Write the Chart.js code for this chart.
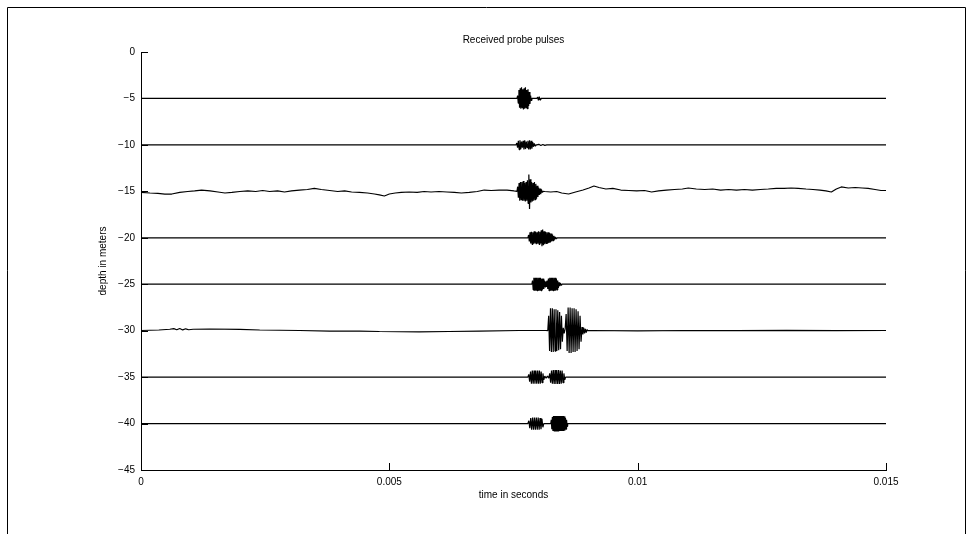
<!DOCTYPE html>
<html>
<head>
<meta charset="utf-8">
<title>Received probe pulses</title>
<script src="https://cdn.jsdelivr.net/npm/chart.js@4.4.0/dist/chart.umd.min.js"></script>
<style>
  body { margin: 0; background: #fff; }
  #wrap { width: 975px; height: 534px; }
</style>
</head>
<body>
<div id="wrap"><canvas id="chart-probe-pulses" width="975" height="534"></canvas></div>
<script>
// probe depths (m), one trace per depth
const depths = [-5, -10, -15, -20, -25, -30, -35, -40];

const xTicks = [0, 0.005, 0.01, 0.015];
const yTicks = [0, -5, -10, -15, -20, -25, -30, -35, -40, -45];

// slow baseline wander, [time s, depth m]
const drift15 = [
  [0, -15.12], [0.00018, -15.18], [0.00034, -15.23], [0.00048, -15.29], [0.00062, -15.29],
  [0.00078, -15.12], [0.00094, -15.02], [0.00108, -14.96], [0.00122, -14.86], [0.00139, -14.96],
  [0.00155, -15.07], [0.00169, -15.18], [0.00183, -15.12], [0.00199, -15.02], [0.00215, -14.96],
  [0.00231, -15.02], [0.00245, -14.91], [0.00259, -15.02], [0.00275, -14.96], [0.00289, -15.07],
  [0.00303, -14.96], [0.00319, -14.86], [0.00335, -14.80], [0.00349, -14.69], [0.00363, -14.80],
  [0.0038, -14.91], [0.00396, -15.02], [0.0041, -14.96], [0.00424, -15.07], [0.0044, -15.12],
  [0.00456, -15.18], [0.0047, -15.29], [0.0048, -15.39], [0.0049, -15.5], [0.005, -15.29],
  [0.00512, -15.18], [0.00524, -15.12], [0.0054, -15.07], [0.00556, -15.12], [0.0057, -15.02],
  [0.00584, -15.07], [0.006, -15.02], [0.00616, -15.07], [0.00631, -15.12], [0.00645, -15.18],
  [0.00661, -15.12], [0.00677, -15.02], [0.00691, -14.86], [0.00705, -14.91], [0.00721, -14.86],
  [0.00737, -14.86], [0.00751, -14.96],
  [0.00813, -15.02], [0.00825, -15.07], [0.00837, -15.02], [0.00847, -15.18], [0.00861, -15.29],
  [0.00875, -15.07], [0.0089, -14.86], [0.00902, -14.64], [0.00912, -14.43], [0.00922, -14.59],
  [0.00936, -14.75], [0.0095, -14.69], [0.00966, -14.86], [0.00982, -14.91], [0.00998, -14.96],
  [0.01014, -14.91], [0.01028, -15.07], [0.01042, -14.96], [0.01058, -14.86], [0.01074, -14.80],
  [0.0109, -14.75], [0.01102, -14.64], [0.01118, -14.75], [0.01135, -14.80], [0.01151, -14.75],
  [0.01167, -14.86], [0.01183, -14.80], [0.01199, -14.86], [0.01215, -14.80], [0.01231, -14.86],
  [0.01247, -14.80], [0.01263, -14.75], [0.01279, -14.69], [0.01295, -14.69], [0.01309, -14.64],
  [0.01323, -14.69], [0.01339, -14.75], [0.01353, -14.80], [0.01367, -14.86], [0.01379, -14.96],
  [0.0139, -15.07], [0.014, -14.75], [0.0141, -14.53], [0.01424, -14.64], [0.01438, -14.59],
  [0.01452, -14.64], [0.01464, -14.69], [0.01478, -14.80], [0.0149, -14.91], [0.015, -14.91]
];

const drift30 = [
  [0, -29.98], [0.00036, -29.93], [0.00058, -29.85], [0.00066, -29.78], [0.00072, -29.9],
  [0.00078, -29.76], [0.00084, -29.92], [0.0009, -29.8], [0.00096, -29.9], [0.00105, -29.85],
  [0.00138, -29.82], [0.00199, -29.87], [0.00239, -29.93], [0.00319, -29.98], [0.0038, -30.04],
  [0.0044, -30.04], [0.0048, -30.09], [0.0056, -30.14], [0.0062, -30.09], [0.00681, -30.04],
  [0.00761, -29.98], [0.00815, -29.98],
  [0.00905, -29.98], [0.01, -30.02], [0.011, -29.98], [0.012, -30.0], [0.013, -29.96],
  [0.014, -30.0], [0.015, -29.98]
];

// received bursts: evenly sampled swing (m) about the base depth
const pulses5 = [
  { from: 0.00757, to: 0.00787, base: -5,
    amp: [0, 0.3, -0.5, 0.9, -1.0, 1.1, -1.1, 1.2, -1.0, 1.0, -1.2, 1.1, -1.1, 1.2, -1.0, 0.9, -1.1, 1.0, -0.8, 0.7, -0.6, 0.3, -0.2, 0] },
  { from: 0.00797, to: 0.00805, base: -5,
    amp: [0, 0.15, -0.2, 0.2, -0.15, 0] }
];

const pulses10 = [
  { from: 0.00755, to: 0.00795, base: -10,
    amp: [0, 0.2, -0.3, 0.45, -0.5, 0.5, -0.45, 0.35, -0.3, 0.45, -0.5, 0.5, -0.45, 0.35, -0.3, 0.45, -0.5, 0.5, -0.5, 0.45, -0.4, 0.3, -0.2, 0.15, -0.1, 0] },
  { from: 0.00797, to: 0.00817, base: -10,
    amp: [0, 0.06, -0.06, 0.05, -0.05, 0] }
];

const pulses15 = [
  { from: 0.00757, to: 0.00809, base: -15,
    amp: [0, 0.5, -0.7, 0.9, -1.0, 1.0, -0.9, 1.0, -1.0, 1.1, -1.0, 0.9, -1.1, 1.0, -1.0, 1.2, -1.3, 1.8, -1.9, 1.3, -1.2, 1.0, -1.1, 0.9, -1.0, 1.0, -0.9, 0.8, -0.8, 0.6, -0.6, 0.4, -0.4, 0.3, -0.3, 0.2, -0.1, 0] }
];

const pulses20 = [
  { from: 0.00779, to: 0.00837, base: -20,
    amp: [0, 0.3, -0.4, 0.6, -0.6, 0.65, -0.7, 0.6, -0.65, 0.7, -0.6, 0.65, -0.7, 0.6, -0.65, 0.7, -0.7, 0.65, -0.6, 0.8, -0.9, 0.9, -0.8, 0.7, -0.7, 0.65, -0.6, 0.6, -0.65, 0.6, -0.55, 0.5, -0.5, 0.45, -0.4, 0.35, -0.3, 0.2, -0.2, 0.1, -0.1, 0] }
];

const pulses25 = [
  { from: 0.00787, to: 0.00847, base: -25,
    amp: [0, 0.4, -0.6, 0.7, -0.7, 0.7, -0.7, 0.7, -0.7, 0.7, -0.7, 0.7, -0.7, 0.7, -0.7, 0.6, -0.6, 0.6, -0.5, 0.4, -0.3, 0.3, -0.3, 0.4, -0.5, 0.6, -0.7, 0.7, -0.7, 0.7, -0.7, 0.7, -0.7, 0.7, -0.7, 0.7, -0.7, 0.6, -0.6, 0.4, -0.4, 0.2, -0.2, 0.1, -0.1, 0] }
];

const pulses30 = [
  { from: 0.00819, to: 0.00852, base: -30,
    amp: [0, 1.6, -2.2, 2.4, -2.3, 2.4, -2.3, 2.3, -2.2, 2.3, -2.2, 2.2, -2.1, 2.0, -2.0, 1.6, -1.2, 0.3, -0.3] },
  { from: 0.00854, to: 0.00886, base: -30,
    amp: [0.2, 1.8, -2.2, 2.5, -2.4, 2.5, -2.4, 2.4, -2.3, 2.4, -2.3, 2.3, -2.2, 2.1, -2.0, 1.6, -1.2] },
  { from: 0.00888, to: 0.00900, base: -30,
    amp: [0.4, -0.4, 0.3, -0.3, 0.2, -0.2, 0.1, 0] }
];

const pulses35 = [
  { from: 0.00779, to: 0.00811, base: -35,
    amp: [0, 0.3, -0.5, 0.6, -0.7, 0.7, -0.7, 0.7, -0.7, 0.7, -0.7, 0.7, -0.7, 0.7, -0.7, 0.6, -0.6, 0.4, -0.3] },
  { from: 0.00813, to: 0.00821, base: -35,
    amp: [0.1, -0.1, 0.1, -0.1] },
  { from: 0.00823, to: 0.00855, base: -35,
    amp: [0.4, -0.6, 0.7, -0.7, 0.75, -0.75, 0.75, -0.75, 0.75, -0.75, 0.75, -0.75, 0.7, -0.7, 0.7, -0.6, 0.4, -0.3, 0] }
];

const pulses40 = [
  { from: 0.00779, to: 0.00811, base: -40,
    amp: [0, 0.3, -0.5, 0.6, -0.65, 0.65, -0.65, 0.65, -0.65, 0.65, -0.65, 0.65, -0.65, 0.6, -0.6, 0.5, -0.4, 0] },
  { from: 0.00825, to: 0.00859, base: -40,
    amp: [0, 0.4, -0.6, 0.7, -0.8, 0.8, -0.8, 0.8, -0.8, 0.8, -0.8, 0.8, -0.8, 0.8, -0.8, 0.8, -0.8, 0.8, -0.8, 0.8, -0.8, 0.8, -0.8, 0.8, -0.8, 0.75, -0.75, 0.6, -0.6, 0.4, -0.3, 0] }
];

function flat(depth) {
  return [[0, depth], [0.015, depth]];
}

function buildTrace(drift, pulses) {
  var pts = drift.map(function (p) {
    return { x: p[0], y: p[1] };
  });
  pulses.forEach(function (p) {
    var n = p.amp.length;
    p.amp.forEach(function (a, i) {
      pts.push({ x: p.from + ((p.to - p.from) * i) / (n - 1), y: p.base + a });
    });
  });
  return pts.sort(function (a, b) {
    return a.x - b.x;
  });
}

const traces = [
  buildTrace(flat(depths[0]), pulses5),
  buildTrace(flat(depths[1]), pulses10),
  buildTrace(drift15, pulses15),
  buildTrace(flat(depths[3]), pulses20),
  buildTrace(flat(depths[4]), pulses25),
  buildTrace(drift30, pulses30),
  buildTrace(flat(depths[6]), pulses35),
  buildTrace(flat(depths[7]), pulses40),
];

const FONT = "'Liberation Sans', Arial, Helvetica, sans-serif";

function fmt(v) {
  return String(v).replace("-", "\u2212");
}

// frame, title and inward tick marks
const figurePlugin = {
  id: "figureDecor",
  afterDraw(chart) {
    const ctx = chart.ctx;
    const xs = chart.scales.x;
    const ys = chart.scales.y;
    const area = chart.chartArea;
    ctx.save();
    ctx.strokeStyle = "#000";
    ctx.lineWidth = 1;

    ctx.beginPath();
    ctx.moveTo(7.5, 534);
    ctx.lineTo(7.5, 7.5);
    ctx.lineTo(965.5, 7.5);
    ctx.lineTo(965.5, 534);
    ctx.stroke();

    ctx.beginPath();
    xTicks.forEach(function (v) {
      var px = Math.round(xs.getPixelForValue(v)) + 0.5;
      ctx.moveTo(px, area.bottom);
      ctx.lineTo(px, area.bottom - 7);
    });
    yTicks.forEach(function (v) {
      var py = Math.round(ys.getPixelForValue(v)) + 0.5;
      ctx.moveTo(area.left, py);
      ctx.lineTo(area.left + 7, py);
    });
    ctx.stroke();

    ctx.fillStyle = "#000";
    ctx.font = "10px " + FONT;
    ctx.textAlign = "center";
    ctx.textBaseline = "middle";
    ctx.fillText("Received probe pulses", (area.left + area.right) / 2, 40);
    ctx.restore();
  },
};

const ctx = document.getElementById("chart-probe-pulses").getContext("2d");

new Chart(ctx, {
  type: "line",
  plugins: [figurePlugin],
  data: {
    datasets: traces.map(function (pts, i) {
      return {
        label: depths[i] + " m",
        data: pts,
        borderColor: "#000",
        borderWidth: 1.2,
        borderJoinStyle: "bevel",
        pointRadius: 0,
        tension: 0,
        fill: false,
      };
    }),
  },
  options: {
    responsive: false,
    animation: false,
    devicePixelRatio: 1,
    parsing: false,
    layout: {
      padding: { top: 52, right: 89, left: 0, bottom: 0 },
    },
    plugins: {
      legend: { display: false },
      tooltip: { enabled: false },
    },
    scales: {
      x: {
        type: "linear",
        min: 0,
        max: 0.015,
        afterFit: function (s) {
          s.height = 64;
        },
        afterBuildTicks: function (s) {
          s.ticks = xTicks.map(function (v) {
            return { value: v };
          });
        },
        grid: { display: false, drawTicks: false },
        border: { display: true, color: "#000", width: 1 },
        ticks: {
          color: "#000",
          padding: 6,
          maxRotation: 0,
          font: { size: 10, family: FONT },
          callback: function (value) {
            return fmt(value);
          },
        },
        title: {
          display: true,
          text: "time in seconds",
          color: "#000",
          font: { size: 10, family: FONT },
          padding: { top: 33, bottom: 33 },
        },
      },
      y: {
        type: "linear",
        min: -45,
        max: 0,
        afterFit: function (s) {
          s.width = 141;
        },
        afterBuildTicks: function (s) {
          s.ticks = yTicks.map(function (v) {
            return { value: v };
          });
        },
        grid: { display: false, drawTicks: false },
        border: { display: true, color: "#000", width: 1 },
        ticks: {
          color: "#000",
          padding: 6,
          font: { size: 10, family: FONT },
          callback: function (value) {
            return fmt(value);
          },
        },
        title: {
          display: true,
          text: "depth in meters",
          color: "#000",
          font: { size: 10, family: FONT },
          padding: { top: 97, bottom: 0 },
        },
      },
    },
  },
});
</script>
</body>
</html>
